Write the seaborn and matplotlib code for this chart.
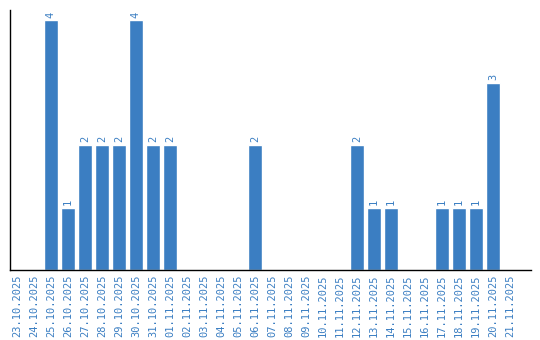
import matplotlib
matplotlib.use("Agg")
import matplotlib.pyplot as plt
import seaborn as sns
import pandas as pd

dates = ["23.10.2025", "24.10.2025", "25.10.2025", "26.10.2025", "27.10.2025",
         "28.10.2025", "29.10.2025", "30.10.2025", "31.10.2025", "01.11.2025",
         "02.11.2025", "03.11.2025", "04.11.2025", "05.11.2025", "06.11.2025",
         "07.11.2025", "08.11.2025", "09.11.2025", "10.11.2025", "11.11.2025",
         "12.11.2025", "13.11.2025", "14.11.2025", "15.11.2025", "16.11.2025",
         "17.11.2025", "18.11.2025", "19.11.2025", "20.11.2025", "21.11.2025"]
counts = [0, 0, 4, 1, 2, 2, 2, 4, 2, 2,
          0, 0, 0, 0, 2, 0, 0, 0, 0, 0,
          2, 1, 1, 0, 0, 1, 1, 1, 3, 0]

df = pd.DataFrame({"date": dates, "count": counts})
blue = "#3b7ec2"

sns.set_style("white")
plt.rcParams['font.family'] = ['DejaVu Sans Mono', 'DejaVu Sans']

fig = plt.figure(figsize=(5.4, 3.4), dpi=100)
ax = fig.add_axes([10 / 540, 1 - 270 / 340, 520.7 / 540, 260 / 340])
sns.barplot(data=df, x="date", y="count", color=blue, saturation=1, width=0.82, ax=ax)

for i, v in enumerate(counts):
    if v > 0:
        ax.text(i, v + 0.04, str(v), rotation=90, ha="center", va="bottom",
                color=blue, fontsize=7.5)

ax.set_xlim(-0.406, 30.22)
ax.set_ylim(0, 4.16)
ax.set_yticks([])
ax.set_xlabel("")
ax.set_ylabel("")
ax.tick_params(axis="x", length=0, pad=3, labelsize=7.5, labelcolor=blue, labelrotation=90)
for s in ["top", "right"]:
    ax.spines[s].set_visible(False)
for s in ["left", "bottom"]:
    ax.spines[s].set_color("black")
    ax.spines[s].set_linewidth(1)

fig.savefig("out.png", dpi=100)
